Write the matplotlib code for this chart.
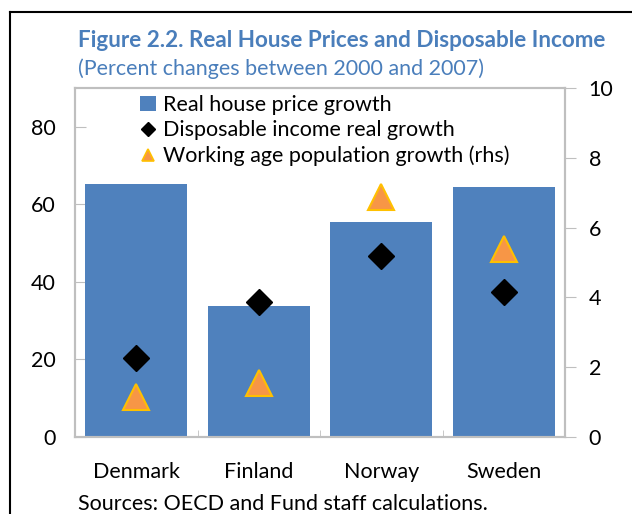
import matplotlib
matplotlib.use("Agg")
import matplotlib.pyplot as plt
from matplotlib.lines import Line2D
from matplotlib.patches import Patch

plt.rcParams["font.family"] = ["Lato", "DejaVu Sans"]

countries = ["Denmark", "Finland", "Norway", "Sweden"]
house_price = [65.2, 33.7, 55.4, 64.5]
disp_income = [20.5, 34.7, 46.6, 37.5]
work_pop = [1.16, 1.56, 6.89, 5.39]

bar_col = "#4f81bd"
tri_col = "#f79646"
tri_edge = "#ffc000"
title_col = "#4a7ebb"
spine_col = "#bfbfbf"

fig = plt.figure(figsize=(6.32, 5.14), dpi=100)
ax = fig.add_axes([75/632, 1-437/514, 490/632, 349/514])
ax2 = ax.twinx()

x = range(len(countries))
ax.bar(x, house_price, width=0.83, color=bar_col, zorder=2)
ax.plot(x, disp_income, linestyle="none", marker="D", ms=13.5, color="black", zorder=3)
ax2.plot(x, work_pop, linestyle="none", marker="^", ms=19, mfc=tri_col, mec=tri_edge, mew=1.5, zorder=3)

ax.set_xlim(-0.5, 3.5)
ax.set_ylim(0, 90)
ax2.set_ylim(0, 10)
ax.set_yticks([0, 20, 40, 60, 80])
ax2.set_yticks([0, 2, 4, 6, 8, 10])
ax.set_xticks(x)
ax.set_xticklabels(countries)
ax.set_xticks([0.5, 1.5, 2.5], minor=True)

ax.tick_params(axis="x", which="major", length=0, pad=18, labelsize=15.5)
ax.tick_params(axis="x", which="minor", direction="in", length=5, color=spine_col)
ax.tick_params(axis="y", direction="in", length=8, color=spine_col, pad=14, labelsize=15.5)
ax2.tick_params(axis="y", direction="out", length=8, color=spine_col, pad=9, labelsize=15.5)

for a in (ax, ax2):
    for s in a.spines.values():
        s.set_color(spine_col)
        s.set_linewidth(1.5)
ax2.patch.set_visible(False)

handles = [
    Patch(facecolor=bar_col),
    Line2D([], [], linestyle="none", marker="D", ms=7, color="black"),
    Line2D([], [], linestyle="none", marker="^", ms=9, mfc=tri_col, mec=tri_edge, mew=1.2),
]
labels = ["Real house price growth", "Disposable income real growth",
          "Working age population growth (rhs)"]
ax.legend(handles, labels, loc="upper left", bbox_to_anchor=(0.115, 1.005),
          frameon=False, fontsize=15.5, handlelength=0.75, handletextpad=0.3,
          labelspacing=0.25, borderaxespad=0)

fig.text(78/632, 1-41/514, "Figure 2.2. Real House Prices and Disposable Income",
         color=title_col, fontsize=16.2, fontweight="bold", va="center")
fig.text(78/632, 1-69/514, "(Percent changes between 2000 and 2007)",
         color=title_col, fontsize=15.5, va="center")
fig.text(78/632, 1-504/514, "Sources: OECD and Fund staff calculations.",
         color="black", fontsize=15.5, va="center")

# outer black frame
fig.add_artist(Line2D([10/632, 10/632], [0, 1-12/514], color="black", lw=1.5))
fig.add_artist(Line2D([10/632, 1], [1-12/514, 1-12/514], color="black", lw=1.5))

fig.savefig("out.png", dpi=100)
